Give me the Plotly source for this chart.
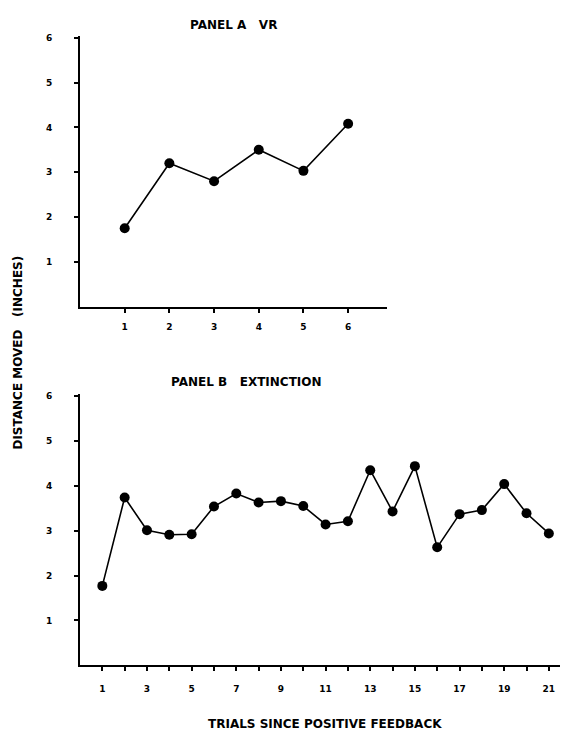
import plotly.graph_objects as go

W, H = 564, 736

trials_a = [1, 2, 3, 4, 5, 6]
dist_a = [1.75, 3.2, 2.8, 3.5, 3.03, 4.08]

trials_b = list(range(1, 22))
dist_b = [1.77, 3.74, 3.01, 2.91, 2.92, 3.54, 3.83, 3.63, 3.66, 3.55, 3.14,
          3.21, 4.35, 3.43, 4.44, 2.63, 3.37, 3.46, 4.04, 3.39, 2.94]

y_ticks = [1, 2, 3, 4, 5, 6]
a_xticks = [1, 2, 3, 4, 5, 6]
b_xticks = list(range(1, 22))
b_xlabels = [str(t) if t % 2 == 1 else "" for t in b_xticks]

title_a = "PANEL A   VR"
title_b = "PANEL B   EXTINCTION"
y_title = "DISTANCE MOVED   (INCHES)"
x_title = "TRIALS SINCE POSITIVE FEEDBACK"

def px_x(p):
    return p / W

def px_y(p):
    return 1 - p / H

fig = go.Figure()
line_style = dict(color="black", width=1.6)
marker_style = dict(color="black", size=10, symbol="circle")

fig.add_trace(go.Scatter(x=trials_a, y=dist_a, mode="lines+markers",
                         line=line_style, marker=marker_style,
                         xaxis="x", yaxis="y", showlegend=False))
fig.add_trace(go.Scatter(x=trials_b, y=dist_b, mode="lines+markers",
                         line=line_style, marker=marker_style,
                         xaxis="x2", yaxis="y2", showlegend=False))

tickfont = dict(family="DejaVu Sans", size=9, color="black", weight="bold")
axis_common = dict(showline=True, linecolor="black", linewidth=2,
                   showgrid=False, zeroline=False, ticks="outside",
                   ticklen=4, tickwidth=1.5, tickcolor="black",
                   tickfont=tickfont)

fig.update_layout(
    xaxis=dict(domain=[px_x(80), px_x(387)], range=[0, 6.87],
               tickvals=a_xticks, ticktext=[str(t) for t in a_xticks],
               anchor="y", ticklabelstandoff=6, **axis_common),
    yaxis=dict(domain=[px_y(305), px_y(33)], range=[0, 6.04],
               tickvals=y_ticks, anchor="x", ticklabelstandoff=20,
               **axis_common),
    xaxis2=dict(domain=[px_x(80), px_x(560)], range=[0, 21.5],
                tickvals=b_xticks, ticktext=b_xlabels,
                anchor="y2", ticklabelstandoff=10, **axis_common),
    yaxis2=dict(domain=[px_y(665), px_y(393)], range=[0, 6.04],
                tickvals=y_ticks, anchor="x2", ticklabelstandoff=20,
                **axis_common),
)

annot_font = dict(family="DejaVu Sans", size=12, color="black", weight=600)
fig.update_layout(annotations=[
    dict(text=title_a, x=px_x(233), y=px_y(22), xref="paper", yref="paper",
         showarrow=False, font=annot_font, xanchor="center", yanchor="middle"),
    dict(text=title_b, x=px_x(246), y=px_y(381), xref="paper", yref="paper",
         showarrow=False, font=annot_font, xanchor="center", yanchor="middle"),
    dict(text=y_title, x=px_x(18), y=px_y(351), xref="paper", yref="paper",
         showarrow=False, font=annot_font, textangle=-90,
         xanchor="center", yanchor="middle"),
    dict(text=x_title, x=px_x(325), y=px_y(724), xref="paper", yref="paper",
         showarrow=False, font=annot_font, xanchor="center", yanchor="middle"),
])

fig.update_layout(width=W, height=H, margin=dict(l=0, r=0, t=0, b=0),
                  paper_bgcolor="white", plot_bgcolor="white")

fig.write_html("out.html", config={"displayModeBar": False},
               post_script="document.body.style.margin='0';"
                           "document.body.style.overflow='hidden';")
